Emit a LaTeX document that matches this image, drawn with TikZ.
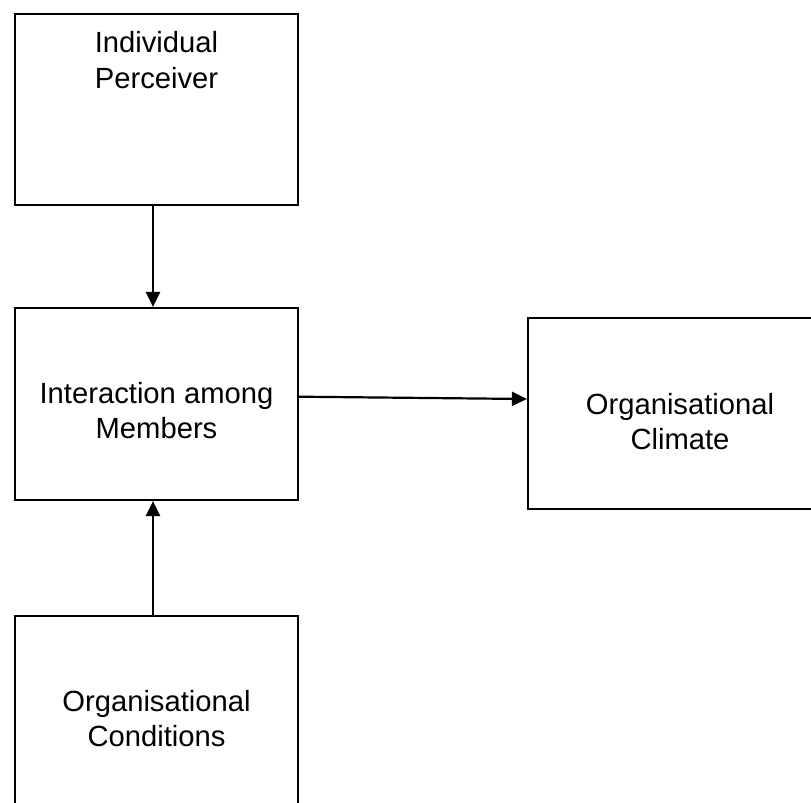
\documentclass[tikz,border=0pt]{standalone}
\usepackage{fontspec}
\setmainfont{Liberation Sans}
\usetikzlibrary{arrows.meta}
\begin{document}
\begin{tikzpicture}[x=1bp,y=-1bp,
  box/.style={draw=black, line width=2.2bp, rectangle, inner sep=0pt, minimum width=283bp, minimum height=191bp},
  lbl/.style={anchor=base, inner sep=0pt, font=\fontsize{29.2bp}{35bp}\selectfont},
  arr/.style={draw=black, line width=2.2bp, -{Triangle[length=15bp,width=14bp]}}]
\clip (0,0) rectangle (811,803);
\fill[white] (0,0) rectangle (811,803);
% boxes
\node[box] (b1) at (156.5,109.5) {};
\node[box, minimum height=192bp] (b2) at (156.5,404) {};
\node[box, minimum width=304bp] (b3) at (680,413.5) {};
\node[box] (b4) at (156.5,711.5) {};
% texts
\node[lbl] (t1) at (156.5,53) {\begin{tabular}[t]{@{}c@{}}Individual\\Perceiver\end{tabular}};
\node[lbl] (t2) at (156.5,403) {\begin{tabular}[t]{@{}c@{}}Interaction among\\Members\end{tabular}};
\node[lbl] (t3) at (680,414) {\begin{tabular}[t]{@{}c@{}}Organisational\\Climate\end{tabular}};
\node[lbl] (t4) at (156.5,711.7) {\begin{tabular}[t]{@{}c@{}}Organisational\\Conditions\end{tabular}};
% connectors
\draw[arr] ([xshift=-3.5bp]b1.south) -- ([xshift=-3.5bp]b2.north);
\draw[arr] ([xshift=-3.5bp]b4.north) -- ([xshift=-3.5bp]b2.south);
\draw[arr] ([yshift=7.3bp]b2.east) -- ([yshift=14.5bp]b3.west);
\end{tikzpicture}
\end{document}
